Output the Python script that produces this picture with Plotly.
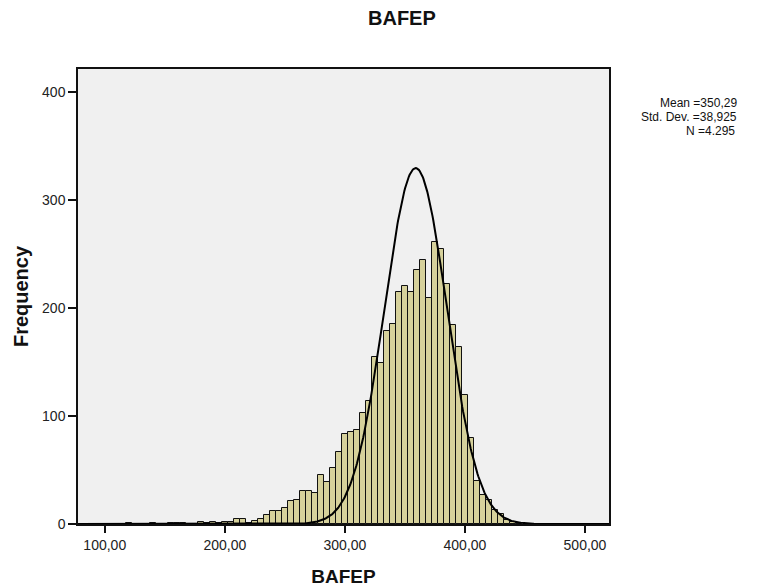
import numpy as np
import plotly.graph_objects as go

# Histogram bin centres (bin width 5) and frequencies
bin_centers = [120, 140, 155, 160, 165, 180, 185, 190, 195, 200, 205, 210, 215, 220,
               225, 230, 235, 240, 245, 250, 255, 260, 265, 270, 275, 280, 285, 290,
               295, 300, 305, 310, 315, 320, 325, 330, 335, 340, 345, 350, 355, 360,
               365, 370, 375, 380, 385, 390, 395, 400, 405, 410, 415, 420, 425, 430,
               435, 440, 445]
frequencies = [1, 1, 1, 1, 1, 2, 1, 2, 1, 2, 2, 5, 5, 1,
               3, 5, 8, 12, 12, 15, 21, 22, 31, 31, 29, 45, 39, 52,
               67, 83, 85, 87, 103, 114, 155, 149, 179, 185, 215, 220, 215, 235,
               244, 209, 261, 255, 222, 184, 164, 119, 80, 40, 27, 22, 13, 9,
               4, 2, 1]
bin_width = 5

# Normal curve as drawn in the picture
curve_mean = 359.0
curve_sd = 26.0
curve_n = 4295

x_ticks = [100, 200, 300, 400, 500]
x_tick_labels = ["100,00", "200,00", "300,00", "400,00", "500,00"]
y_ticks = [0, 100, 200, 300, 400]
y_tick_labels = ["0", "100", "200", "300", "400"]

stats_lines = ["Mean =350,29", "Std. Dev. =38,925", "N =4.295"]

FONT = "Liberation Sans, Arial, sans-serif"

xs = np.linspace(77, 521, 700)
ys = curve_n * bin_width / (curve_sd * np.sqrt(2 * np.pi)) * np.exp(-0.5 * ((xs - curve_mean) / curve_sd) ** 2)

fig = go.Figure()
fig.add_trace(go.Bar(
    x=bin_centers, y=frequencies, width=bin_width,
    marker=dict(color="#D6D19B", line=dict(color="#111111", width=1)),
    showlegend=False, hoverinfo="skip",
))
fig.add_trace(go.Scatter(
    x=xs, y=ys, mode="lines",
    line=dict(color="black", width=2),
    showlegend=False, hoverinfo="skip",
))

annotations = [
    dict(text="<b>BAFEP</b>", xref="paper", yref="paper", x=0.61, y=1.0,
         xanchor="center", yanchor="middle", yshift=51, showarrow=False,
         font=dict(family=FONT, size=20, color="#111111")),
]
stat_xshift = [130, 130, 128]
stat_yshift = [-34, -48, -62]
for line, xs_, ys_ in zip(stats_lines, stat_xshift, stat_yshift):
    annotations.append(dict(
        text=line, xref="paper", yref="paper", x=1.0, y=1.0,
        xanchor="right", yanchor="middle", xshift=xs_, yshift=ys_, showarrow=False,
        font=dict(family=FONT, size=12, color="#111111")))

fig.update_layout(
    width=768, height=588,
    margin=dict(l=65, r=167, t=61, b=72),
    paper_bgcolor="white",
    plot_bgcolor="#F0F0F0",
    font=dict(family=FONT, size=14, color="#222222"),
    bargap=0,
    annotations=annotations,
)

fig.update_xaxes(
    range=[77.7, 520.0],
    tickmode="array", tickvals=x_ticks, ticktext=x_tick_labels,
    ticks="outside", ticklen=7, tickwidth=1.5, tickcolor="#111111",
    showline=True, linecolor="#111111", linewidth=1.5, mirror=True,
    showgrid=False, zeroline=False,
    tickfont=dict(size=14),
    title=dict(text="<b>BAFEP</b>", font=dict(size=19, color="#111111"), standoff=18),
)
fig.update_yaxes(
    range=[0, 421.3],
    tickmode="array", tickvals=y_ticks, ticktext=y_tick_labels,
    ticks="outside", ticklen=8, tickwidth=1.5, tickcolor="#111111",
    showline=True, linecolor="#111111", linewidth=1.5, mirror=True,
    showgrid=False, zeroline=False,
    tickfont=dict(size=14),
    title=dict(text="<b>Frequency</b>", font=dict(size=20, color="#111111"), standoff=8),
)

fig.write_html("out.html")
